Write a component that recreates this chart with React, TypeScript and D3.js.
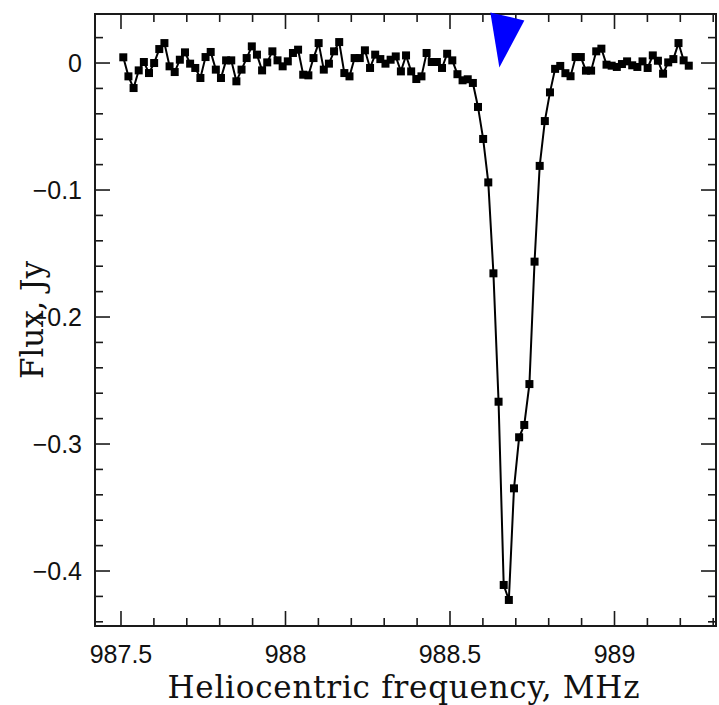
import React, { useEffect, useRef } from "react";
import * as d3 from "d3";

// channel grid of the spectrum (MHz)
const CHANNEL_START = 987.507;
const CHANNEL_WIDTH = 0.015625;

// flux per channel, Jy
const flux = [
  0.0045, -0.0105, -0.0197, -0.0058, 0.0008, -0.0079, 0.0, 0.011, 0.0157, -0.0026,
  -0.0071, 0.0026, 0.0084, -0.0005, -0.0039, -0.0118, 0.0047, 0.0087, -0.0052, -0.0118,
  0.0021, 0.0021, -0.0144, -0.0052, 0.0039, 0.0131, 0.0066, -0.0058, 0.0005, 0.0092,
  0.0021, -0.0026, 0.0013, 0.0079, 0.0105, -0.0092, -0.0097, 0.0039, 0.0157, -0.0052,
  -0.0005, 0.0092, 0.0165, -0.0079, -0.0105, 0.0039, 0.0039, 0.01, -0.0039, 0.0066,
  0.0031, -0.0005, 0.0026, 0.0052, -0.0066, 0.006, -0.0066, -0.0126, -0.0105, 0.0079,
  0.0008, 0.0008, -0.0039, 0.0073, 0.0021, -0.0088, -0.0136, -0.0128, -0.0157, -0.0346,
  -0.0598, -0.094, -0.1656, -0.2667, -0.411, -0.4228, -0.3349, -0.2947, -0.285, -0.2528,
  -0.1564, -0.081, -0.0457, -0.0231, -0.0046, -0.0023, -0.008, -0.0104, 0.0047, 0.0047,
  -0.006, -0.006, 0.0092, 0.0113, -0.0013, -0.0021, -0.0031, -0.0008, 0.0013, -0.0018,
  -0.0031, 0.0013, -0.0039, 0.006, 0.0018, -0.0084, 0.0005, 0.0031, 0.0157, 0.0021,
  -0.0021,
];

const xMajor = [987.5, 988, 988.5, 989];
const xMinor = [987.6, 987.7, 987.8, 987.9, 988.1, 988.2, 988.3, 988.4, 988.6, 988.7, 988.8, 988.9, 989.1, 989.2, 989.3];
const yMajor = [0, -0.1, -0.2, -0.3, -0.4];
const yMinor = [0.02, -0.02, -0.04, -0.06, -0.08, -0.12, -0.14, -0.16, -0.18, -0.22, -0.24, -0.26, -0.28, -0.32, -0.34, -0.36, -0.38, -0.42, -0.44];

// line marker (blue arrow)
const markerFreq = 988.65;
const markerFlux = -0.0035;

const W = 719;
const H = 705;
const margin = { left: 95, right: 3, top: 14, bottom: 79 };

export default function App() {
  const ref = useRef<SVGSVGElement>(null);

  useEffect(() => {
    const svg = d3.select(ref.current);
    svg.selectAll("*").remove();

    const x = d3.scaleLinear().domain([987.421, 989.3085]).range([margin.left, W - margin.right]);
    const y = d3.scaleLinear().domain([0.0386, -0.4433]).range([margin.top, H - margin.bottom]);

    const data = flux.map((f, i) => ({ freq: CHANNEL_START + i * CHANNEL_WIDTH, flux: f }));

    const x0 = margin.left, x1 = W - margin.right, y0 = margin.top, y1 = H - margin.bottom;
    const ink = "#1a1a1a";
    const majLen = 15, minLen = 8;

    const g = svg.append("g");

    // ticks, all four sides
    const ticks = g.append("g").attr("stroke", ink).attr("stroke-width", 1.6);
    const xt = [...xMajor.map((v) => ({ v, l: majLen })), ...xMinor.map((v) => ({ v, l: minLen }))];
    xt.forEach(({ v, l }) => {
      ticks.append("line").attr("x1", x(v)).attr("x2", x(v)).attr("y1", y1).attr("y2", y1 - l);
      ticks.append("line").attr("x1", x(v)).attr("x2", x(v)).attr("y1", y0).attr("y2", y0 + l);
    });
    const yt = [...yMajor.map((v) => ({ v, l: majLen })), ...yMinor.map((v) => ({ v, l: minLen }))];
    yt.forEach(({ v, l }) => {
      ticks.append("line").attr("y1", y(v)).attr("y2", y(v)).attr("x1", x0).attr("x2", x0 + l);
      ticks.append("line").attr("y1", y(v)).attr("y2", y(v)).attr("x1", x1).attr("x2", x1 - l);
    });

    // data
    const line = d3.line<{ freq: number; flux: number }>().x((d) => x(d.freq)).y((d) => y(d.flux));
    g.append("path").datum(data).attr("d", line).attr("fill", "none").attr("stroke", "#000").attr("stroke-width", 2);
    const s = 8;
    g.append("g")
      .selectAll("rect")
      .data(data)
      .join("rect")
      .attr("x", (d) => x(d.freq) - s / 2)
      .attr("y", (d) => y(d.flux) - s / 2)
      .attr("width", s)
      .attr("height", s)
      .attr("fill", "#000");

    // frame
    g.append("rect")
      .attr("x", x0).attr("y", y0).attr("width", x1 - x0).attr("height", y1 - y0)
      .attr("fill", "none").attr("stroke", ink).attr("stroke-width", 2);

    // blue marker
    const tx = x(markerFreq), ty = y(markerFlux);
    g.append("path")
      .attr("d", `M${tx},${ty} L${tx - 9},${ty - 55} L${tx + 25},${ty - 47} Z`)
      .attr("fill", "#0000ff");

    // tick labels
    const fmt = (v: number) => (v === 0 ? "0" : d3.format(".1f")(v).replace("-", "\u2212"));
    g.append("g")
      .selectAll("text")
      .data(xMajor)
      .join("text")
      .attr("x", (d) => x(d))
      .attr("y", y1 + 37)
      .attr("text-anchor", "middle")
      .attr("font-family", "Liberation Sans, Arial, sans-serif")
      .attr("font-size", 25)
      .attr("fill", "#111")
      .text((d) => String(d));
    g.append("g")
      .selectAll("text")
      .data(yMajor)
      .join("text")
      .attr("x", x0 - 13)
      .attr("y", (d) => y(d))
      .attr("dy", "0.36em")
      .attr("text-anchor", "end")
      .attr("font-family", "Liberation Sans, Arial, sans-serif")
      .attr("font-size", 25)
      .attr("fill", "#111")
      .text((d) => fmt(d));

    // axis titles
    g.append("text")
      .attr("x", (x0 + x1) / 2 - 2)
      .attr("y", 698)
      .attr("text-anchor", "middle")
      .attr("font-family", "DejaVu Serif, serif")
      .attr("font-size", 31)
      .attr("textLength", 472)
      .attr("lengthAdjust", "spacing")
      .attr("fill", "#111")
      .text("Heliocentric frequency, MHz");
    g.append("text")
      .attr("transform", `translate(43,${(y0 + y1) / 2}) rotate(-90)`)
      .attr("text-anchor", "middle")
      .attr("font-family", "DejaVu Serif, serif")
      .attr("font-size", 31)
      .attr("textLength", 118)
      .attr("lengthAdjust", "spacing")
      .attr("fill", "#111")
      .text("Flux, Jy");
  }, []);

  return (
    <div style={{ position: "absolute", left: 0, top: 0 }}>
      <svg ref={ref} width={W} height={H} style={{ display: "block", background: "#fff" }} />
    </div>
  );
}
